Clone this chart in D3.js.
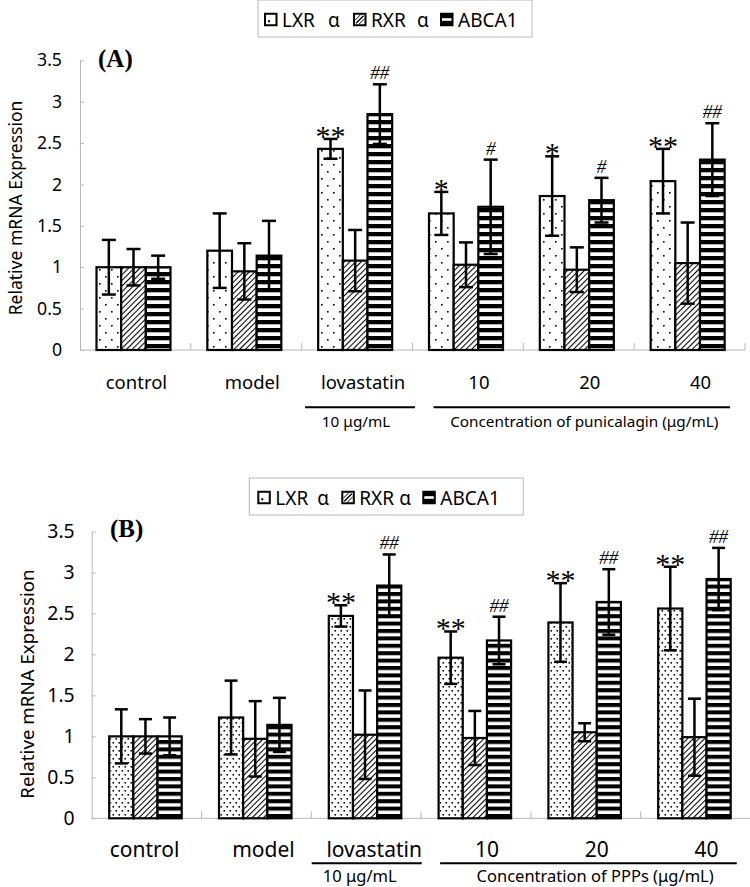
<!DOCTYPE html>
<html><head><meta charset="utf-8">
<script src="https://cdn.jsdelivr.net/npm/d3@7"></script>
<style>body{margin:0;background:#fff}</style>
</head><body><svg id="c" width="750" height="887"></svg>
<script>
// ---------- DATA ----------
const categories = ["control", "model", "lovastatin", "10", "20", "40"];
const seriesKeys = ["LXR α", "RXR α", "ABCA1"];
const yTicks = [0, 0.5, 1, 1.5, 2, 2.5, 3, 3.5];
const yTickLabels = ["0", "0.5", "1", "1.5", "2", "2.5", "3", "3.5"];
const yTitle = "Relative mRNA Expression";

// Panel A (punicalagin)
const lxrA      = [1.00, 1.20, 2.43, 1.65, 1.86, 2.04];
const lxrErrA   = [0.33, 0.45, 0.12, 0.26, 0.48, 0.39];
const rxrA      = [1.00, 0.95, 1.08, 1.03, 0.97, 1.05];
const rxrErrA   = [0.22, 0.34, 0.37, 0.27, 0.27, 0.49];
const abcaA     = [1.00, 1.14, 2.85, 1.73, 1.81, 2.30];
const abcaErrA  = [0.14, 0.42, 0.36, 0.57, 0.27, 0.44];
const lxrSigA   = ["", "", "**", "*", "*", "**"];
const abcaSigA  = ["", "", "##", "#", "#", "##"];
const subLabelsA = ["10 μg/mL", "Concentration of punicalagin (μg/mL)"];

// Panel B (PPPs)
const lxrB      = [1.00, 1.23, 2.47, 1.96, 2.39, 2.56];
const lxrErrB   = [0.33, 0.45, 0.13, 0.32, 0.48, 0.51];
const rxrB      = [1.00, 0.97, 1.02, 0.98, 1.05, 0.99];
const rxrErrB   = [0.21, 0.46, 0.54, 0.33, 0.11, 0.47];
const abcaB     = [1.00, 1.14, 2.84, 2.17, 2.64, 2.92];
const abcaErrB  = [0.23, 0.33, 0.38, 0.29, 0.40, 0.38];
const lxrSigB   = ["", "", "**", "**", "**", "**"];
const abcaSigB  = ["", "", "##", "##", "##", "##"];
const subLabelsB = ["10 μg/mL", "Concentration of PPPs (μg/mL)"];

// ---------- LAYOUT ----------
const FONT = "'Noto Sans', sans-serif";
const SERIF = "'Liberation Serif', serif";
const svg = d3.select("#c");
const defs = svg.append("defs");

function makePatterns(id, dotW, dotH, dots, stripeP, stripeB) {
  const pd = defs.append("pattern").attr("id", "dots" + id).attr("patternUnits", "userSpaceOnUse")
    .attr("width", dotW).attr("height", dotH);
  pd.append("rect").attr("width", dotW).attr("height", dotH).attr("fill", "#fff");
  dots.forEach(d => pd.append("rect").attr("x", d[0]).attr("y", d[1]).attr("width", 1.6).attr("height", 1.6).attr("fill", "#000"));
  const ph = defs.append("pattern").attr("id", "hatch" + id).attr("patternUnits", "userSpaceOnUse")
    .attr("width", 4).attr("height", 4).attr("patternTransform", "rotate(45)");
  ph.append("rect").attr("width", 4).attr("height", 4).attr("fill", "#fff");
  ph.append("line").attr("x1", 0.5).attr("x2", 0.5).attr("y1", 0).attr("y2", 4).attr("stroke", "#000").attr("stroke-width", 1.1);
  const ps = defs.append("pattern").attr("id", "stripe" + id).attr("patternUnits", "userSpaceOnUse")
    .attr("width", 10).attr("height", stripeP);
  ps.append("rect").attr("width", 10).attr("height", stripeP).attr("fill", "#fff");
  ps.append("rect").attr("y", 0).attr("width", 10).attr("height", stripeB).attr("fill", "#000");
}
makePatterns("A", 12, 14, [[3, 3], [9, 10]], 8, 4.3);
makePatterns("B", 6, 8, [[1.5, 2], [4.5, 6]], 7.4, 4);

const panels = [
  { id: "A", title: "(A)", titleX: 98, titleY: 67, titleSize: 25,
    left: 80, right: 745, y0: 350, yTop: 60.3, groupOff: 16.5, groupW: 74, capW: 14,
    tickPad: 18, tickFont: 17.7, yTitleX: 15, yTitleY: 208, yTitleFont: 17.5,
    catY: 389, catFont: 18.5, catDx: [1, 6, 6, 11, 11, 11],
    lineY: 407.3, line1: [3.4, 2.6], line2: [21, -15], subY: 426.5, subFont: 15.3, subDx: [-4, 2.5],
    legend: { x: 258, y: 0, w: 274, h: 37, font: 19, sqX: [7, 96, 183], textDx: 17, alphaDx: [46, 46] },
    vals: [lxrA, rxrA, abcaA], errs: [lxrErrA, rxrErrA, abcaErrA], sigL: lxrSigA, sigC: abcaSigA, subs: subLabelsA },
  { id: "B", title: "(B)", titleX: 110, titleY: 537, titleSize: 25,
    left: 91.7, right: 750.5, y0: 818.3, yTop: 531.5, groupOff: 17.5, groupW: 72.5, capW: 13,
    tickPad: 17, tickFont: 19.4, yTitleX: 26, yTitleY: 684, yTitleFont: 18.7,
    catY: 856.5, catFont: 21, catDx: [-2, 7, 8, 11, 11, 11],
    lineY: 863.3, line1: [0.4, 0.6], line2: [19, -13.7], subY: 881.5, subFont: 16.5, subDx: [-7, 6.7],
    legend: { x: 249.3, y: 478, w: 274, h: 37, font: 19, sqX: [9, 93, 174], textDx: 17, alphaDx: [42, 40] },
    vals: [lxrB, rxrB, abcaB], errs: [lxrErrB, rxrErrB, abcaErrB], sigL: lxrSigB, sigC: abcaSigB, subs: subLabelsB }
];

panels.forEach(p => {
  const g = svg.append("g");
  const x0 = d3.scaleBand().domain(categories).range([p.left, p.right]);
  const x1 = d3.scaleBand().domain(seriesKeys).range([p.groupOff, p.groupOff + p.groupW]);
  const y = d3.scaleLinear().domain([0, 3.5]).range([p.y0, p.yTop]);
  const fills = ["url(#dots" + p.id + ")", "url(#hatch" + p.id + ")", "url(#stripe" + p.id + ")"];

  // y axis
  const ya = g.append("g").attr("transform", `translate(${p.left},0)`)
    .call(d3.axisLeft(y).tickValues(yTicks).tickFormat((d, i) => yTickLabels[i])
      .tickSizeInner(-4).tickSizeOuter(0).tickPadding(p.tickPad));
  ya.select(".domain").attr("stroke", "#b8b8b8");
  ya.selectAll(".tick line").attr("stroke", "#b8b8b8");
  ya.selectAll(".tick text").attr("font-family", FONT).attr("font-size", p.tickFont).attr("fill", "#000");

  // x axis baseline + boundary ticks
  g.append("line").attr("x1", p.left).attr("x2", p.right).attr("y1", y(0)).attr("y2", y(0)).attr("stroke", "#b8b8b8");
  const bounds = categories.slice(1).map(c => x0(c)).concat([x0.range()[1]]);
  g.selectAll(".xt").data(bounds).enter().append("line")
    .attr("x1", d => d).attr("x2", d => d).attr("y1", y(0)).attr("y2", y(0) - 7).attr("stroke", "#b8b8b8");

  // bars
  const rows = [];
  categories.forEach((c, i) => seriesKeys.forEach((s, j) =>
    rows.push({ c, s, i, j, v: p.vals[j][i], e: p.errs[j][i] })));
  const bars = g.selectAll(".bar").data(rows).enter().append("g");
  bars.append("rect")
    .attr("x", d => x0(d.c) + x1(d.s)).attr("width", x1.bandwidth())
    .attr("y", d => y(d.v)).attr("height", d => y(0) - y(d.v))
    .attr("fill", d => fills[d.j]).attr("stroke", "#000").attr("stroke-width", 2.2);
  // error bars
  const cx = d => x0(d.c) + x1(d.s) + x1.bandwidth() / 2;
  bars.append("line").attr("x1", cx).attr("x2", cx)
    .attr("y1", d => y(d.v + d.e)).attr("y2", d => y(d.v - d.e)).attr("stroke", "#000").attr("stroke-width", 2.5);
  bars.append("line").attr("x1", d => cx(d) - p.capW / 2).attr("x2", d => cx(d) + p.capW / 2)
    .attr("y1", d => y(d.v + d.e)).attr("y2", d => y(d.v + d.e)).attr("stroke", "#000").attr("stroke-width", 2.5);
  bars.append("line").attr("x1", d => cx(d) - p.capW / 2).attr("x2", d => cx(d) + p.capW / 2)
    .attr("y1", d => y(d.v - d.e)).attr("y2", d => y(d.v - d.e)).attr("stroke", "#000").attr("stroke-width", 2.5);

  // significance marks
  rows.filter(d => d.j === 0 && p.sigL[d.i]).forEach(d => {
    g.append("text").attr("x", cx(d)).attr("y", y(d.v + d.e) + 7).attr("text-anchor", "middle")
      .attr("font-family", SERIF).attr("font-size", 30).text(p.sigL[d.i]);
  });
  rows.filter(d => d.j === 2 && p.sigC[d.i]).forEach(d => {
    g.append("text").attr("x", cx(d)).attr("y", y(d.v + d.e) - 5).attr("text-anchor", "middle")
      .attr("font-family", SERIF).attr("font-style", "italic").attr("font-size", 19).text(p.sigC[d.i]);
  });

  // y title
  g.append("text").attr("transform", `translate(${p.yTitleX},${p.yTitleY}) rotate(-90)`)
    .attr("text-anchor", "middle").attr("dominant-baseline", "central")
    .attr("font-family", FONT).attr("font-size", p.yTitleFont).text(yTitle);

  // panel title
  g.append("text").attr("x", p.titleX).attr("y", p.titleY)
    .attr("font-family", SERIF).attr("font-weight", "bold").attr("font-size", p.titleSize).text(p.title);

  // category labels
  g.selectAll(".cat").data(categories).enter().append("text")
    .attr("x", (c, i) => x0(c) + x0.bandwidth() / 2 + p.catDx[i]).attr("y", p.catY)
    .attr("text-anchor", "middle").attr("font-family", FONT).attr("font-size", p.catFont).text(c => c);

  // group lines + sub labels
  const l1 = [x0("lovastatin") + p.line1[0], x0("lovastatin") + x0.bandwidth() + p.line1[1]];
  const l2 = [x0("10") + p.line2[0], x0.range()[1] + p.line2[1]];
  [l1, l2].forEach((l, k) => {
    g.append("line").attr("x1", l[0]).attr("x2", l[1]).attr("y1", p.lineY).attr("y2", p.lineY)
      .attr("stroke", "#000").attr("stroke-width", 2);
    g.append("text").attr("x", (l[0] + l[1]) / 2 + p.subDx[k]).attr("y", p.subY).attr("text-anchor", "middle")
      .attr("font-family", FONT).attr("font-size", p.subFont).text(p.subs[k]);
  });

  // legend
  const L = p.legend;
  const lg = g.append("g");
  lg.append("rect").attr("x", L.x).attr("y", L.y).attr("width", L.w).attr("height", L.h)
    .attr("fill", "#fff").attr("stroke", "#b8b8b8").attr("stroke-width", 1);
  const cy = L.y + L.h / 2 + 1;
  seriesKeys.forEach((s, j) => {
    const sq = 11.5;
    const gx = L.x + L.sqX[j], gy = cy - sq / 2;
    if (j === 0) {
      lg.append("rect").attr("x", gx).attr("y", gy).attr("width", sq).attr("height", sq).attr("fill", "#fff").attr("stroke", "#000").attr("stroke-width", 2);
      lg.append("rect").attr("x", gx + 3).attr("y", gy + 6.5).attr("width", 2).attr("height", 2).attr("fill", "#000");
    } else if (j === 1) {
      lg.append("rect").attr("x", gx).attr("y", gy).attr("width", sq).attr("height", sq).attr("fill", "#fff").attr("stroke", "#000").attr("stroke-width", 2);
      lg.append("line").attr("x1", gx + 2).attr("y1", gy + sq - 2).attr("x2", gx + sq - 2).attr("y2", gy + 2).attr("stroke", "#000").attr("stroke-width", 1.5);
      lg.append("line").attr("x1", gx + 1).attr("y1", gy + sq - 5).attr("x2", gx + sq - 5).attr("y2", gy + 1).attr("stroke", "#000").attr("stroke-width", 1);
      lg.append("line").attr("x1", gx + 5).attr("y1", gy + sq - 1).attr("x2", gx + sq - 1).attr("y2", gy + 5).attr("stroke", "#000").attr("stroke-width", 1);
    } else {
      lg.append("rect").attr("x", gx).attr("y", gy).attr("width", sq).attr("height", sq).attr("fill", "#000").attr("stroke", "#000").attr("stroke-width", 2);
      lg.append("rect").attr("x", gx + 1).attr("y", gy + sq / 2 - 1.3).attr("width", sq - 2).attr("height", 2.6).attr("fill", "#fff");
    }
    const parts = s.split(" ");
    const tx = gx + L.textDx;
    lg.append("text").attr("x", tx).attr("y", cy).attr("dominant-baseline", "central")
      .attr("font-family", FONT).attr("font-size", L.font).text(parts[0]);
    if (parts[1]) lg.append("text").attr("x", tx + L.alphaDx[j]).attr("y", cy).attr("dominant-baseline", "central")
      .attr("font-family", FONT).attr("font-size", L.font).text(parts[1]);
  });
});
</script>
</body></html>
